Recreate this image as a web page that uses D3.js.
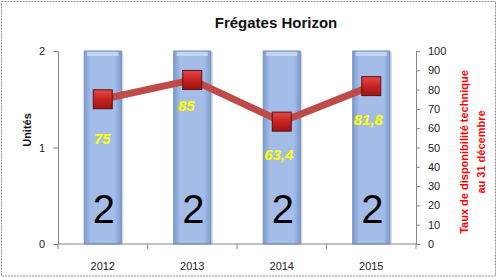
<!DOCTYPE html>
<html>
<head>
<meta charset="utf-8">
<script src="https://cdn.jsdelivr.net/npm/d3@7.9.0/dist/d3.min.js"></script>
<style>
  body { margin: 0; background: #fff; }
  svg { display: block; font-family: "Liberation Sans", Arial, sans-serif; }
</style>
</head>
<body>
<script>
// chart data
const years = ["2012", "2013", "2014", "2015"];
const units = [2, 2, 2, 2];
const dispo = [75, 85, 63.4, 81.8];
const dispoLabels = ["75", "85", "63,4", "81,8"];
const leftTicks = [0, 1, 2];
const rightTicks = [0, 10, 20, 30, 40, 50, 60, 70, 80, 90, 100];

// hand-placed label nudges (as in the original sheet)
const labelNudge = [[-0.5, 45], [-6, 31], [-3, 38.5], [-3, 39]];

const width = 501, height = 278;
const plotL = 58, plotR = 416, plotT = 51, plotB = 244;

const svg = d3.select("body").append("svg")
    .attr("width", width)
    .attr("height", height);

const defs = svg.append("defs");

// bar gradient (horizontal, darker edges)
const barGrad = defs.append("linearGradient").attr("id", "barGrad")
    .attr("x1", "0%").attr("x2", "100%").attr("y1", "0%").attr("y2", "0%");
barGrad.append("stop").attr("offset", "0%").attr("stop-color", "#7c9bcf");
barGrad.append("stop").attr("offset", "18%").attr("stop-color", "#a4bde8");
barGrad.append("stop").attr("offset", "82%").attr("stop-color", "#a4bde8");
barGrad.append("stop").attr("offset", "100%").attr("stop-color", "#7c9bcf");

const markGrad = defs.append("linearGradient").attr("id", "markGrad")
    .attr("x1", "0%").attr("x2", "0%").attr("y1", "0%").attr("y2", "100%");
markGrad.append("stop").attr("offset", "0%").attr("stop-color", "#e24a4a");
markGrad.append("stop").attr("offset", "50%").attr("stop-color", "#c92222");
markGrad.append("stop").attr("offset", "100%").attr("stop-color", "#9c1414");

// outer border
svg.append("rect")
    .attr("x", 1.5).attr("y", 1.5)
    .attr("width", 494).attr("height", 274.5)
    .attr("fill", "none")
    .attr("stroke", "#8c8c8c")
    .attr("stroke-width", 1)
    .attr("stroke-dasharray", "2,1");

// scales
const x = d3.scaleBand().domain(years).range([plotL, plotR]).paddingInner(0.586).paddingOuter(0.293);
const yL = d3.scaleLinear().domain([0, 2]).range([plotB, plotT]);
const yR = d3.scaleLinear().domain([0, 100]).range([plotB, plotT]);

// title
svg.append("text")
    .attr("x", 276).attr("y", 28)
    .attr("text-anchor", "middle")
    .attr("font-weight", "bold")
    .attr("font-size", 15)
    .attr("fill", "#111")
    .text("Frégates Horizon");

// bars
const barG = svg.append("g");
barG.selectAll("rect.shadow")
    .data(units)
    .join("rect")
    .attr("class", "shadow")
    .attr("x", (d, i) => x(years[i]) + 2)
    .attr("y", d => yL(d) + 1)
    .attr("width", x.bandwidth())
    .attr("height", d => plotB - yL(d) - 1)
    .attr("fill", "#d6d6d6");

barG.selectAll("rect.bar")
    .data(units)
    .join("rect")
    .attr("class", "bar")
    .attr("x", (d, i) => x(years[i]))
    .attr("y", d => yL(d))
    .attr("width", x.bandwidth())
    .attr("height", d => plotB - yL(d))
    .attr("fill", "url(#barGrad)")
    .attr("stroke", "#7390c4")
    .attr("stroke-width", 1);

// top bevel highlight
barG.selectAll("rect.bevel")
    .data(units)
    .join("rect")
    .attr("class", "bevel")
    .attr("x", (d, i) => x(years[i]) + 3)
    .attr("y", d => yL(d) + 1)
    .attr("width", x.bandwidth() - 6)
    .attr("height", 4)
    .attr("fill", "#c4d4f0");

// big unit labels
barG.selectAll("text.unit")
    .data(units)
    .join("text")
    .attr("class", "unit")
    .attr("x", (d, i) => x(years[i]) + x.bandwidth() / 2 + 1)
    .attr("y", 223)
    .attr("text-anchor", "middle")
    .attr("font-size", 40)
    .attr("fill", "#000")
    .text(d => d);

// axes
const axisColor = "#868686";

const gL = svg.append("g")
    .attr("transform", `translate(${plotL},0)`)
    .call(d3.axisLeft(yL).tickValues(leftTicks).tickSize(5).tickPadding(8).tickFormat(d3.format("d")));

const gR = svg.append("g")
    .attr("transform", `translate(${plotR},0)`)
    .call(d3.axisRight(yR).tickValues(rightTicks).tickSize(4).tickPadding(8));

const gB = svg.append("g")
    .attr("transform", `translate(0,${plotB})`)
    .call(d3.axisBottom(x).tickSize(0).tickPadding(18));

// boundary ticks on the category axis
gB.selectAll("line.bt")
    .data(d3.range(years.length + 1))
    .join("line")
    .attr("class", "bt")
    .attr("x1", i => plotL + i * x.step())
    .attr("x2", i => plotL + i * x.step())
    .attr("y1", 0).attr("y2", 5)
    .attr("stroke", axisColor);

[gL, gR, gB].forEach(g => {
    g.select(".domain").attr("stroke", axisColor);
    g.selectAll(".tick line").attr("stroke", axisColor);
    g.selectAll(".tick text")
        .attr("font-size", 11)
        .attr("fill", "#222")
        .attr("font-family", "'Liberation Sans', Arial, sans-serif");
});
gB.select(".domain").attr("d", `M${plotL},0H${plotR}`);

// axis titles
svg.append("text")
    .attr("transform", "translate(31,130) rotate(-90)")
    .attr("text-anchor", "middle")
    .attr("font-weight", "bold")
    .attr("font-size", 11)
    .attr("fill", "#111")
    .text("Unités");

const rTitle = svg.append("text")
    .attr("transform", "translate(468,152) rotate(-90)")
    .attr("text-anchor", "middle")
    .attr("font-weight", "bold")
    .attr("font-size", 11)
    .attr("fill", "#ff0000");
rTitle.append("tspan").attr("x", 0).attr("dy", 0).text("Taux de disponibilité technique");
rTitle.append("tspan").attr("x", 0).attr("dy", 16.5).text("au 31 décembre");

// line series
const line = d3.line()
    .x((d, i) => x(years[i]) + x.bandwidth() / 2)
    .y(d => yR(d));

svg.append("path")
    .datum(dispo)
    .attr("d", line)
    .attr("fill", "none")
    .attr("stroke", "#be4b48")
    .attr("stroke-width", 7);

const ms = 19;
svg.selectAll("rect.mark")
    .data(dispo)
    .join("rect")
    .attr("class", "mark")
    .attr("x", (d, i) => x(years[i]) + x.bandwidth() / 2 - ms / 2)
    .attr("y", d => yR(d) - ms / 2)
    .attr("width", ms)
    .attr("height", ms)
    .attr("fill", "url(#markGrad)")
    .attr("stroke", "#5e0f0f")
    .attr("stroke-width", 1);

// value labels
svg.selectAll("text.val")
    .data(dispo)
    .join("text")
    .attr("class", "val")
    .attr("x", (d, i) => x(years[i]) + x.bandwidth() / 2 + labelNudge[i][0])
    .attr("y", (d, i) => yR(d) + labelNudge[i][1])
    .attr("text-anchor", "middle")
    .attr("font-style", "italic")
    .attr("font-weight", "bold")
    .attr("font-size", 15)
    .attr("fill", "#ffff00")
    .text((d, i) => dispoLabels[i]);
</script>
</body>
</html>
